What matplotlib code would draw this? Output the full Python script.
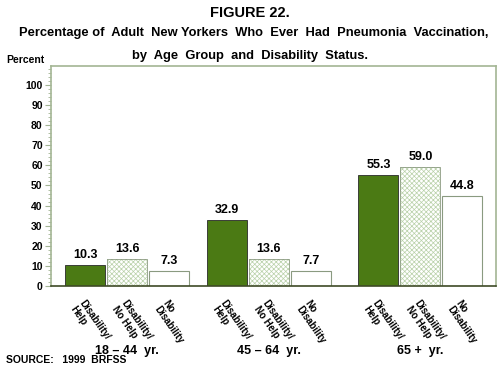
import numpy as np
import matplotlib
matplotlib.use('Agg')
import matplotlib.pyplot as plt
from matplotlib.ticker import MultipleLocator

plt.rcParams['font.family'] = ['Liberation Sans', 'DejaVu Sans']
plt.rcParams['font.weight'] = 'bold'
plt.rcParams['hatch.linewidth'] = 0.5

# data
age_groups = ['18 \u2013 44  yr.', '45 \u2013 64  yr.', '65 +  yr.']
categories = ['Disability/\nHelp', 'Disability/\nNo Help', 'No\nDisability']
help_vals = [10.3, 32.9, 55.3]
nohelp_vals = [13.6, 13.6, 59.0]
nodis_vals = [7.3, 7.7, 44.8]
series = [help_vals, nohelp_vals, nodis_vals]

green = '#4b7a14'
hatch_col = '#b9d1a9'
frame_light = '#a3b594'
frame_dark = '#3e4a26'

fig = plt.figure(figsize=(5, 3.7), dpi=100)
ax = fig.add_axes([0.102, 0.227, 0.89, 0.595])

group_x = np.array([0, 0.967, 2.0])
w = 0.2725
step = 0.286

styles = [
    dict(color=green, edgecolor='#2a2a2a', linewidth=0.6),
    dict(color='white', edgecolor='#8a9a80', hatch='xxxxxxx', linewidth=0.6),
    dict(color='white', edgecolor='#8a9a80', linewidth=0.8),
]

for i, (vals, st) in enumerate(zip(series, styles)):
    xs = group_x + (i - 1) * step
    if 'hatch' in st:
        ax.bar(xs, vals, width=w, color='white', edgecolor=hatch_col,
               hatch=st['hatch'], linewidth=0)
        ax.bar(xs, vals, width=w, color='none', edgecolor=st['edgecolor'],
               linewidth=st['linewidth'])
    else:
        ax.bar(xs, vals, width=w, **st)
    for x, v in zip(xs, vals):
        ax.text(x, v + 2.0, f'{v:.1f}', ha='center', va='bottom',
                fontsize=9, fontweight='bold')
        ax.annotate(categories[i], xy=(x, 0), xytext=(0, -9),
                    textcoords='offset points', ha='left', va='top',
                    rotation=-55, rotation_mode='anchor', fontsize=7,
                    fontweight='bold', linespacing=1.05,
                    annotation_clip=False)

for gx, g in zip(group_x, age_groups):
    ax.annotate(g, xy=(gx, 0), xytext=(0, -47), textcoords='offset points',
                ha='center', va='center', fontsize=9, fontweight='bold',
                annotation_clip=False)

ax.set_xlim(-0.519, 2.516)
ax.set_ylim(0, 109.5)
ax.set_xticks([])
ax.yaxis.set_minor_locator(MultipleLocator(2))
ax.set_yticks(np.arange(0, 101, 10))
ax.tick_params(axis='y', which='major', length=4, width=0.8, color=frame_light,
               labelsize=7.5, pad=2)
ax.tick_params(axis='y', which='minor', length=2.5, width=0.6, color=frame_light)
for lab in ax.get_yticklabels():
    lab.set_fontweight('bold')

for s in ['left', 'top', 'right']:
    ax.spines[s].set_color(frame_light)
    ax.spines[s].set_linewidth(1.2)
ax.spines['bottom'].set_color(frame_dark)
ax.spines['bottom'].set_linewidth(1.2)

fig.text(0.5, 0.965, 'FIGURE 22.', ha='center', va='center', fontsize=10.5,
         fontweight='bold')
fig.text(0.508, 0.91, 'Percentage of  Adult  New Yorkers  Who  Ever  Had  Pneumonia  Vaccination,',
         ha='center', va='center', fontsize=9.3, fontweight='bold')
fig.text(0.5, 0.848, 'by  Age  Group  and  Disability  Status.', ha='center',
         va='center', fontsize=9.3, fontweight='bold')
fig.text(0.012, 0.838, 'Percent', ha='left', va='center', fontsize=7.5,
         fontweight='bold')
fig.text(0.012, 0.027, 'SOURCE:   1999  BRFSS', ha='left', va='center',
         fontsize=7.5, fontweight='bold')

fig.savefig('out.png', dpi=100)
